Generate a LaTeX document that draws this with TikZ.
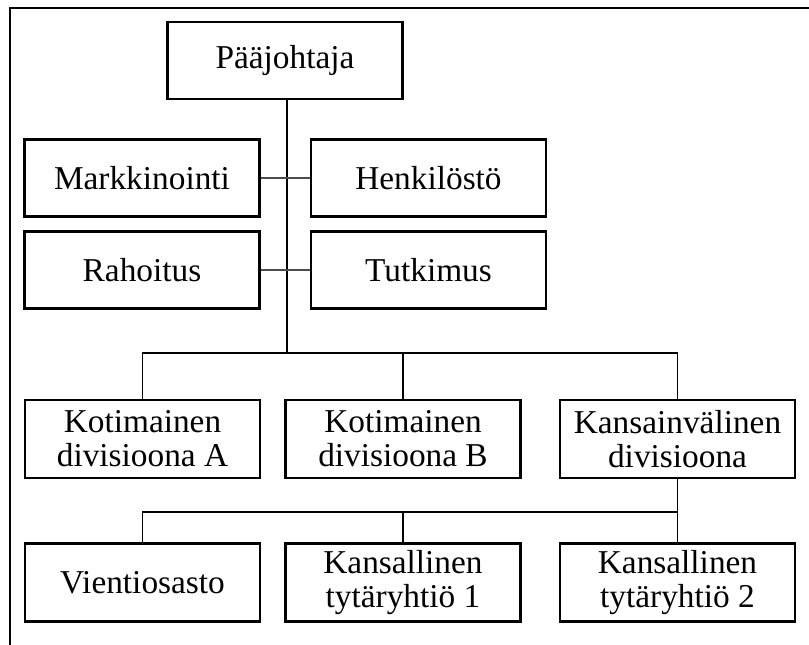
\documentclass[tikz,border=0pt]{standalone}
\usepackage{fontspec}
\setmainfont{Liberation Serif}
\begin{document}
\begin{tikzpicture}[x=0.75pt,y=-0.75pt,
  unit/.style={draw=black,line width=2.2pt,fill=white,align=center,
    minimum width=235*0.75pt,inner sep=0pt,
    font=\fontsize{25}{25.5}\selectfont},
  lvlA/.style={unit,minimum height=77*0.75pt},
  lvlB/.style={unit,minimum height=78*0.75pt},
  link/.style={draw=black,line width=0.8pt},
  staff/.style={draw=black!70,line width=1pt},
  frameline/.style={draw=black,line width=2.2pt}]
\useasboundingbox (0,0) rectangle (809,645);
% page frame (top and left edges)
\draw[frameline] (809,8) -- (10,8) -- (10,646);
% top management and staff units
\node[lvlA] (pj) at (285,60.5) {Pääjohtaja};
\node[lvlA] (mk) at (142,178) {Markkinointi};
\node[lvlA] (hk) at (428.5,178) {Henkilöstö};
\node[lvlA] (rh) at (142,270) {Rahoitus};
\node[lvlA] (tk) at (428.5,270) {Tutkimus};
% divisions
\node[lvlB] (ka) at (142.5,439) {Kotimainen\\divisioona A};
\node[lvlB] (kb) at (403,439) {Kotimainen\\divisioona B};
\node[lvlB] (kv) at (677.5,439) {Kansainvälinen\\divisioona};
% units of the international division
\node[lvlB] (vo) at (142.5,582.5) {Vientiosasto};
\node[lvlB] (t1) at (403,582.5) {Kansallinen\\tytäryhtiö 1};
\node[lvlB] (t2) at (677.5,582.5) {Kansallinen\\tytäryhtiö 2};
% bus coordinates
\coordinate (bus1) at (287,353);
\coordinate (bus2) at (677.5,512);
% main trunk and staff links
\draw[link] ([xshift=2*0.75pt]pj.south) -- (bus1);
\draw[staff] (mk.east) -- (mk.east -| hk.west);
\draw[staff] (rh.east) -- (rh.east -| tk.west);
% division bus
\draw[link] (ka.north) |- (bus1) -| (kv.north);
\draw[link] (kb.north) -- (kb.north |- bus1);
% international division bus
\draw[link] (kv.south) -- (bus2);
\draw[link] (vo.north) |- (bus2) -- (t2.north);
\draw[link] (t1.north) -- (t1.north |- bus2);
\end{tikzpicture}
\end{document}
